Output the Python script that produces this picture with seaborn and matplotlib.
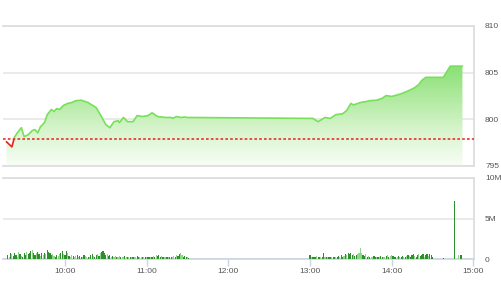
import numpy as np
import pandas as pd
import matplotlib
matplotlib.use("Agg")
import matplotlib.pyplot as plt
import seaborn as sns
from matplotlib.patches import Rectangle, PathPatch
from matplotlib.path import Path
from matplotlib.colors import LinearSegmentedColormap

# ---------------- data ----------------
price_times = ["09:17", "09:21", "09:23", "09:25", "09:28", "09:30", "09:33", "09:36", "09:38", "09:40",
               "09:42", "09:45", "09:47", "09:50", "09:52", "09:54", "09:56", "09:59", "10:02", "10:05",
               "10:08", "10:12", "10:17", "10:23", "10:26", "10:30", "10:33", "10:36", "10:39", "10:40",
               "10:43", "10:46", "10:50", "10:53", "10:57", "11:01", "11:04", "11:08", "11:14", "11:18",
               "11:19", "11:22", "11:25", "11:28", "11:30", "13:00", "13:02", "13:06", "13:11", "13:15",
               "13:19", "13:24", "13:27", "13:30", "13:32", "13:37", "13:41", "13:44", "13:49", "13:53",
               "13:56", "14:00", "14:05", "14:08", "14:13", "14:17", "14:20", "14:22", "14:25", "14:28",
               "14:38", "14:43", "14:52"]
price_values = [797.6, 797.05, 798.1, 798.55, 799.1, 798.15, 798.35, 798.8, 798.9, 798.55,
                799.2, 799.65, 800.5, 801.05, 800.85, 801.15, 801.05, 801.5, 801.7, 801.8,
                802.0, 802.05, 801.8, 801.25, 800.5, 799.45, 799.1, 799.75, 799.85, 799.65,
                800.2, 799.75, 799.75, 800.4, 800.3, 800.4, 800.7, 800.3, 800.2, 800.2,
                800.1, 800.3, 800.2, 800.25, 800.2, 800.1, 800.1, 799.75, 800.2, 800.1,
                800.5, 800.6, 800.95, 801.7, 801.55, 801.8, 801.9, 802.0, 802.05, 802.25,
                802.55, 802.45, 802.65, 802.8, 803.1, 803.4, 803.75, 804.15, 804.5, 804.5,
                804.5, 805.7, 805.7]
reference_price = 797.9

# volumes (millions) per minute
vol_morning_start = "09:18"
vol_morning = [0.5, 0.3, 0.7, 0.6, 0.4, 0.8, 0.5, 0.3, 0.9, 0.6,
               0.4, 0.3, 0.7, 0.5, 0.9, 0.6, 0.8, 1.0, 1.15, 0.7,
               0.5, 0.8, 0.9, 0.6, 0.4, 0.7, 0.5, 0.8, 0.6, 1.05,
               0.9, 0.7, 0.5, 0.6, 0.4, 0.3, 0.5, 0.4, 0.6, 0.7,
               1.0, 0.6, 0.5, 1.0, 0.7, 0.4, 0.3, 0.5, 0.4, 0.3,
               0.4, 0.5, 0.3, 0.4, 0.2, 0.3, 0.5, 0.4, 0.3, 0.2,
               0.3, 0.5, 0.6, 0.4, 0.3, 0.5, 0.6, 0.4, 0.7, 0.9,
               1.0, 0.7, 0.5, 0.6, 0.4, 0.5, 0.3, 0.4, 0.3, 0.4,
               0.3, 0.2, 0.4, 0.3, 0.2, 0.3, 0.4, 0.2, 0.3, 0.2,
               0.3, 0.2, 0.2, 0.3, 0.2, 0.4, 0.3, 0.2, 0.3, 0.2,
               0.2, 0.3, 0.2, 0.3, 0.2, 0.2, 0.3, 0.4, 0.3, 0.5,
               0.4, 0.5, 0.3, 0.4, 0.3, 0.2, 0.3, 0.2, 0.3, 0.3,
               0.2, 0.3, 0.4, 0.3, 0.5, 0.4, 0.6, 0.8, 0.5, 0.3,
               0.4, 0.3, 0.2, 0.1]
vol_morning_tone = ("dldldddlld" "ldddldddld" "dlddldldld" "dddllddlld" "dlddldlldl"
                    "ldlddldlld" "lddlddldld" "dddlddldll" "dlldlldldl" "dldllddlld"
                    "ldlddldldl" "dddldlldld" "dlldlddlld" "ddld")
vol_afternoon_start = "13:00"
vol_afternoon = [0.55, 0.3, 0.2, 0.3, 0.2, 0.4, 0.3, 0.2, 0.3, 0.2,
                 0.75, 0.3, 0.2, 0.3, 0.2, 0.3, 0.2, 0.3, 0.2, 0.3,
                 0.3, 0.4, 0.3, 0.5, 0.3, 0.4, 0.6, 0.5, 0.7, 0.6,
                 0.7, 0.5, 0.6, 0.4, 0.5, 0.6, 0.8, 1.3, 0.8, 0.5,
                 0.4, 0.6, 0.3, 0.4, 0.3, 0.2, 0.3, 0.4, 0.2, 0.3,
                 0.3, 0.2, 0.4, 0.3, 0.2, 0.3, 0.4, 0.5, 0.3, 0.4,
                 0.5, 0.4, 0.3, 0.2, 0.3, 0.4, 0.3, 0.2, 0.4, 0.3,
                 0.3, 0.4, 0.5, 0.4, 0.3, 0.5, 0.6, 0.4, 0.3, 0.5,
                 0.6, 0.4, 0.5, 0.6, 0.3, 0.5, 0.6, 0.4, 0.6, 0.5,
                 0.3]
vol_afternoon_tone = ("dldddlddld" "dldlddlddl" "ddlddldldd" "ddlddlllld" "dldldllddl"
                      "dlddlldldl" "ldddldlddl" "dldldddldd" "ldddlddldd" "d")
vol_close_times = ["14:38", "14:46", "14:49", "14:51"]
vol_close = [0.1, 7.1, 0.5, 0.55]
vol_close_tone = "ddld"

x_tick_labels = ["10:00", "11:00", "12:00", "13:00", "14:00", "15:00"]
price_ticks = [795, 800, 805, 810]
vol_ticks = [0, 5, 10]
vol_tick_labels = ["0", "5M", "10M"]


def to_min(s):
    h, m = s.split(":")
    return int(h) * 60 + int(m)


# ---------------- build frames ----------------
price_df = pd.DataFrame({"t": [to_min(t) for t in price_times], "price": price_values})

m0 = to_min(vol_morning_start)
a0 = to_min(vol_afternoon_start)
vol_df = pd.DataFrame({
    "t": [m0 + i for i in range(len(vol_morning))]
         + [a0 + i for i in range(len(vol_afternoon))]
         + [to_min(t) for t in vol_close_times],
    "vol": vol_morning + vol_afternoon + vol_close,
    "tone": list(vol_morning_tone) + list(vol_afternoon_tone) + list(vol_close_tone),
})

# ---------------- figure ----------------
sns.set_theme(style="white")
plt.rcParams['font.family'] = ['Liberation Sans', 'DejaVu Sans']

W, H = 501, 300
fig = plt.figure(figsize=(W / 100, H / 100), dpi=100)
ax1 = fig.add_axes([3 / W, 1 - 166 / H, 471 / W, 140 / H])
ax2 = fig.add_axes([3 / W, 1 - 259 / H, 471 / W, 81 / H])

XMIN, XMAX = 554.5, 900.5
grid_c = "#e6e6e6"
frame_c = "#dcdcdc"
label_c = "#555555"

# ---- price panel ----
xs = price_df["t"].values
ys = price_df["price"].values
verts = [(xs[0], 795)] + list(zip(xs, ys)) + [(xs[-1], 795), (xs[0], 795)]
poly = PathPatch(Path(verts), facecolor="none", edgecolor="none")
ax1.add_patch(poly)
cmap = LinearSegmentedColormap.from_list("g", ["#f8fdf6", "#d9f5cf", "#b0ea9f", "#86df70"])
grad = np.linspace(0, 1, 256).reshape(-1, 1)
im = ax1.imshow(grad, extent=[xs[0], xs[-1], 795, 806], origin="lower",
                cmap=cmap, aspect="auto", zorder=1, interpolation="bilinear")
im.set_clip_path(poly)

sns.lineplot(data=price_df, x="t", y="price", ax=ax1, color="#78e05a", lw=1.2, zorder=3)
green_line = ax1.lines[-1]
green_line.set_clip_path(Rectangle((0, reference_price), 2000, 100, transform=ax1.transData))
sns.lineplot(data=price_df, x="t", y="price", ax=ax1, color="#e8231c", lw=1.2, zorder=3)
red_line = ax1.lines[-1]
red_line.set_clip_path(Rectangle((0, 700), 2000, reference_price - 700, transform=ax1.transData))

ax1.axhline(reference_price, color="#e8322a", ls=(0, (1.6, 1.3)), lw=1.2, zorder=4)

ax1.set_xlim(XMIN, XMAX)
ax1.set_ylim(795, 810)
ax1.set_yticks(price_ticks)
ax1.set_yticklabels([str(v) for v in price_ticks])
ax1.yaxis.tick_right()
ax1.tick_params(axis="y", length=0, pad=8, labelsize=6, labelcolor=label_c)
ax1.set_xticks([])
ax1.set_xlabel("")
ax1.set_ylabel("")
ax1.grid(axis="y", color=grid_c, lw=1.2)
ax1.set_axisbelow(True)
ax1.spines["left"].set_visible(False)
for s in ["top", "right", "bottom"]:
    ax1.spines[s].set_color(frame_c)
    ax1.spines[s].set_linewidth(1.2)

# ---- volume panel ----
tone_colors = {"d": "#2f8f2f", "l": "#8fd68a"}
ax2.bar(vol_df["t"], vol_df["vol"], width=0.85, linewidth=0,
        color=[tone_colors[c] for c in vol_df["tone"]], zorder=3)
ax2.set_xlim(XMIN, XMAX)
ax2.set_ylim(0, 10)
ax2.set_yticks(vol_ticks)
ax2.set_yticklabels(vol_tick_labels)
ax2.yaxis.tick_right()
ax2.tick_params(axis="y", length=0, pad=8, labelsize=6, labelcolor=label_c)
ax2.set_xticks([to_min(t) for t in x_tick_labels])
ax2.set_xticklabels(x_tick_labels)
ax2.tick_params(axis="x", bottom=True, direction="out", length=5, width=1,
                color="#c9d5e3", pad=1.5, labelsize=6, labelcolor=label_c)
ax2.grid(axis="y", color=grid_c, lw=1.2)
ax2.set_axisbelow(True)
ax2.spines["left"].set_visible(False)
for s in ["top", "right"]:
    ax2.spines[s].set_color(frame_c)
    ax2.spines[s].set_linewidth(1.2)
ax2.spines["bottom"].set_color("#c9d5e3")
ax2.spines["bottom"].set_linewidth(1.2)

fig.savefig("out.png", dpi=100)
